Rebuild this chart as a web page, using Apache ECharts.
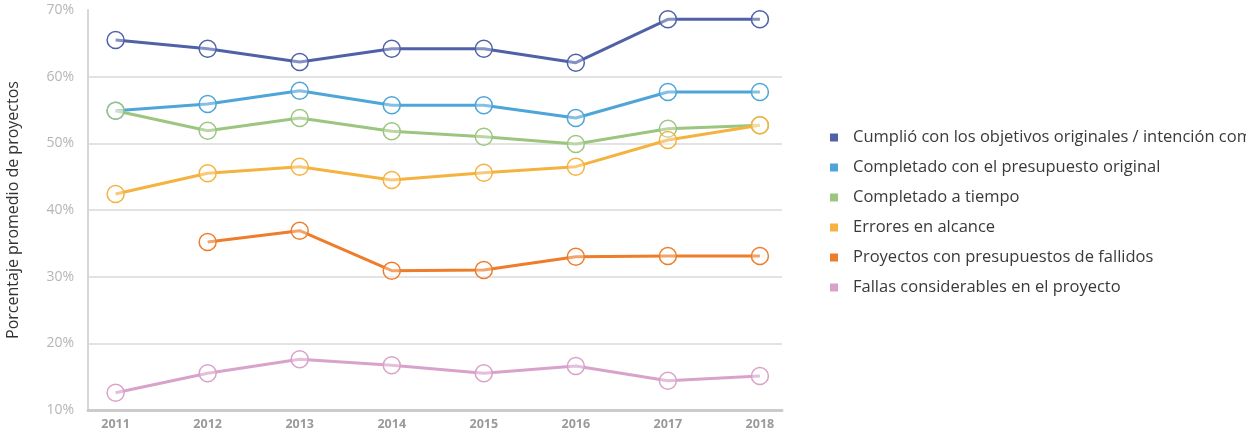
<!DOCTYPE html>
<html>
<head>
<meta charset="utf-8">
<script src="https://cdn.jsdelivr.net/npm/echarts@6/dist/echarts.min.js"></script>
<style>
  html, body { margin: 0; padding: 0; background: #fff; }
  #main { width: 1246px; height: 443px; }
</style>
</head>
<body>
<div id="main"></div>
<script>
// datos
var years = [2011, 2012, 2013, 2014, 2015, 2016, 2017, 2018];
var names = [
  'Cumplió con los objetivos originales / intención comercial',
  'Completado con el presupuesto original',
  'Completado a tiempo',
  'Errores en alcance',
  'Proyectos con presupuestos de fallidos',
  'Fallas considerables en el proyecto'
];
var objetivos   = [65.5, 64.2, 62.2, 64.2, 64.2, 62.1, 68.6, 68.6];
var presupuesto = [54.9, 55.9, 57.9, 55.7, 55.7, 53.8, 57.7, 57.7];
var aTiempo     = [54.9, 51.9, 53.8, 51.8, 51.0, 49.9, 52.2, 52.7];
var alcance     = [42.4, 45.5, 46.5, 44.5, 45.6, 46.5, 50.5, 52.7];
var fallidos    = [null, 35.2, 36.9, 30.9, 31.0, 33.0, 33.1, 33.1];
var fallas      = [12.6, 15.5, 17.6, 16.7, 15.5, 16.6, 14.4, 15.1];
var yTicks = [10, 20, 30, 40, 50, 60, 70];

var colors = ['#4f62a8', '#4ea5d8', '#9cc57f', '#f5b23f', '#ee7d2b', '#d9a2cb'];
var allData = [objetivos, presupuesto, aTiempo, alcance, fallidos, fallas];

var myChart = echarts.init(document.getElementById('main'));

var series = allData.map(function (arr, i) {
  return {
    name: names[i],
    type: 'line',
    data: arr.map(function (v, j) { return [years[j], v]; }),
    symbol: 'circle',
    symbolSize: 17,
    connectNulls: false,
    lineStyle: { color: colors[i], width: 3 },
    itemStyle: { color: 'rgba(255,255,255,0.3)', borderColor: colors[i], borderWidth: 1.5 }
  };
});

var option = {
  animation: false,
  textStyle: { fontFamily: 'Open Sans' },
  grid: { left: 88, right: 464, top: 10, bottom: 33, containLabel: false, outerBoundsMode: 'none' },
  legend: {
    orient: 'vertical',
    left: 825,
    top: 124,
    icon: 'rect',
    itemWidth: 8,
    itemHeight: 8,
    itemGap: 13,
    data: names.map(function (n, i) { return { name: n, itemStyle: { color: colors[i], borderWidth: 0 } }; }),
    textStyle: { fontFamily: 'Open Sans', fontSize: 16.5, color: '#3a3a3a', lineHeight: 17, padding: [0, 0, 0, 10] }
  },
  xAxis: {
    type: 'value',
    min: 2010.7,
    max: 2018.24,
    axisLine: { show: true, lineStyle: { color: '#cbcbcb', width: 3 } },
    axisTick: { show: false },
    splitLine: { show: false },
    axisLabel: {
      customValues: years,
      color: '#9a9a9a',
      fontSize: 12.5,
      fontWeight: 'bold',
      margin: 8,
      formatter: function (v) { return String(v); }
    }
  },
  yAxis: {
    type: 'value',
    min: 10,
    max: 70,
    interval: 10,
    name: 'Porcentaje promedio de proyectos',
    nameLocation: 'middle',
    nameGap: 67,
    nameTextStyle: { color: '#333', fontSize: 16 },
    axisLine: { show: true, lineStyle: { color: '#d6d6d6', width: 2 } },
    axisTick: { show: false },
    splitLine: { show: true, showMaxLine: false, lineStyle: { color: '#e3e3e3', width: 2 } },
    axisLabel: {
      color: '#b5b5b5',
      fontSize: 14,
      margin: 14,
      customValues: yTicks,
      formatter: '{value}%'
    }
  },
  series: series
};

myChart.setOption(option);
</script>
</body>
</html>
